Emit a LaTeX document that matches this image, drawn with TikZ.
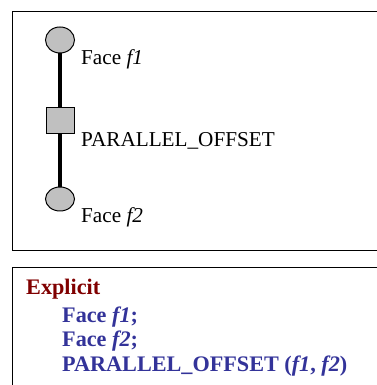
\documentclass[tikz,border=0pt]{standalone}
\usepackage{fontspec}
\setmainfont{Liberation Serif}
\usetikzlibrary{shapes.geometric}
\definecolor{kwred}{RGB}{128,0,0}
\definecolor{kwblue}{RGB}{51,51,153}
\definecolor{fillgray}{RGB}{192,192,192}
\begin{document}
\begin{tikzpicture}[x=1pt,y=1pt,
  facenode/.style={ellipse,draw,line width=1pt,fill=fillgray,minimum width=29pt,minimum height=25pt,inner sep=0pt},
  consnode/.style={rectangle,draw,line width=1pt,fill=fillgray,minimum width=28pt,minimum height=26pt,inner sep=0pt},
  lbl/.style={anchor=base west,inner sep=0pt,font=\fontsize{21.2}{24}\selectfont},
  code/.style={anchor=base west,inner sep=0pt,font=\fontsize{22.2}{25}\selectfont\bfseries,text=kwblue},
  frame/.style={draw,line width=1pt}]
\useasboundingbox (0,0) rectangle (376,385);
% frames
\draw[frame] (12,134) -- (12,373) -- (378,373);
\draw[frame] (12,-2) -- (12,117) -- (378,117);
\draw[frame] (12,134) -- (378,134);
% graph
\coordinate (top) at (60,345);
\coordinate (bot) at (60,186);
\draw[line width=4pt] (top) -- (bot);
\node[facenode,minimum height=26pt] (f1) at (top) {};
\node[consnode] (po) at (60,264.5) {};
\node[facenode,minimum height=24pt] (f2) at (bot) {};
\node[lbl] (t1) at (81,320) {Face \textit{f1}};
\node[lbl] (t2) at (81,238) {PARALLEL\_OFFSET};
\node[lbl] (t3) at (81,162) {Face \textit{f2}};
% code
\node[code,text=kwred] (c0) at (26,90) {Explicit};
\node[code] (c1) at (62,62) {Face \textit{f1};};
\node[code] (c2) at (62,38) {Face \textit{f2};};
\node[code] (c3) at (62,13) {PARALLEL\_OFFSET (\textit{f1}, \textit{f2})};
\end{tikzpicture}
\end{document}
